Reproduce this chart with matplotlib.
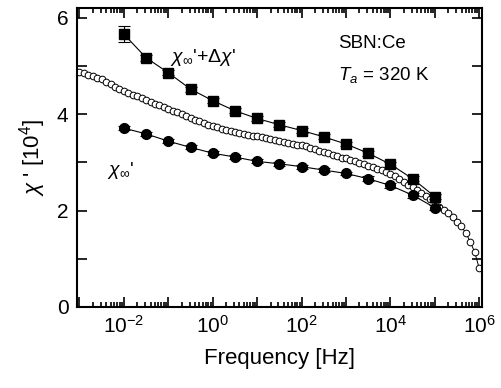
import numpy as np
import matplotlib
matplotlib.use("Agg")
import matplotlib.pyplot as plt
from matplotlib.ticker import LogLocator, FixedLocator, NullFormatter

plt.rcParams["font.family"] = ["Liberation Sans", "DejaVu Sans"]
plt.rcParams["mathtext.fontset"] = "custom"
plt.rcParams["mathtext.rm"] = "Liberation Sans"
plt.rcParams["mathtext.it"] = "Liberation Sans:italic"

# chi_inf' + delta chi'  (squares) and chi_inf' (filled circles)
freq_fit = [1e-2, 3.16e-2, 1e-1, 3.16e-1, 1e0, 3.16e0, 1e1, 3.16e1,
            1e2, 3.16e2, 1e3, 3.16e3, 1e4, 3.16e4, 1e5]
chi_total = [5.66, 5.17, 4.86, 4.52, 4.28, 4.07, 3.91, 3.78,
             3.66, 3.53, 3.38, 3.19, 2.96, 2.66, 2.29]
chi_total_err = [0.16, 0.06, 0.05, 0.05, 0.05, 0.05, 0.05, 0.05,
                 0.05, 0.05, 0.05, 0.05, 0.05, 0.05, 0.05]
chi_inf = [3.71, 3.59, 3.44, 3.31, 3.19, 3.11, 3.02, 2.97,
           2.91, 2.84, 2.77, 2.66, 2.52, 2.32, 2.06]
chi_inf_err = [0.04, 0.04, 0.04, 0.04, 0.04, 0.04, 0.04, 0.04,
               0.04, 0.04, 0.04, 0.05, 0.05, 0.05, 0.05]

# measured chi' (open circles), 10 points per decade from 1e-3 to 1e6 Hz
freq_meas = np.logspace(-3, 6, 91)
chi_meas = [4.88, 4.85, 4.82, 4.79, 4.76, 4.72, 4.67, 4.62, 4.57, 4.52,
            4.48, 4.44, 4.40, 4.37, 4.33, 4.29, 4.25, 4.21, 4.18, 4.14,
            4.11, 4.07, 4.04, 4.00, 3.96, 3.92, 3.88, 3.85, 3.81, 3.78,
            3.75, 3.73, 3.70, 3.68, 3.66, 3.64, 3.61, 3.59, 3.57, 3.55,
            3.54, 3.52, 3.50, 3.48, 3.47, 3.45, 3.43, 3.41, 3.39, 3.37,
            3.35, 3.33, 3.30, 3.27, 3.24, 3.21, 3.19, 3.16, 3.13, 3.10,
            3.08, 3.05, 3.02, 2.99, 2.96, 2.93, 2.90, 2.87, 2.84, 2.80,
            2.76, 2.71, 2.65, 2.60, 2.54, 2.48, 2.42, 2.36, 2.30, 2.23,
            2.16, 2.08, 2.01, 1.94, 1.86, 1.77, 1.67, 1.53, 1.35, 1.13,
            0.80]

decades = [1e-3, 1e-2, 1e-1, 1e0, 1e1, 1e2, 1e3, 1e4, 1e5, 1e6]
decade_labels = ["", r"$10^{-2}$", "", r"$10^{0}$", "", r"$10^{2}$", "",
                 r"$10^{4}$", "", r"$10^{6}$"]

fig = plt.figure(figsize=(5.02, 3.88), dpi=100)
ax = fig.add_axes([0.153, 0.209, 0.807, 0.770])

ax.plot(freq_meas, chi_meas, "-o", color="black", lw=0.7, ms=4.8,
        mfc="white", mec="black", mew=0.7, zorder=2)
ax.errorbar(freq_fit, chi_total, yerr=chi_total_err, fmt="-s", color="black",
            lw=0.8, ms=6.5, capsize=4, elinewidth=0.8, capthick=0.8, zorder=3)
ax.errorbar(freq_fit, chi_inf, yerr=chi_inf_err, fmt="-o", color="black",
            lw=0.8, ms=7, capsize=4, elinewidth=0.8, capthick=0.8, zorder=3)

ax.set_xscale("log")
ax.set_xlim(8.7e-4, 1.15e6)
ax.set_ylim(0, 6.2)
ax.xaxis.set_major_locator(FixedLocator(decades))
ax.set_xticklabels(decade_labels)
ax.xaxis.set_minor_locator(LogLocator(base=10, subs=np.arange(2, 10), numticks=30))
ax.xaxis.set_minor_formatter(NullFormatter())
ax.set_yticks([0, 2, 4, 6])
ax.set_yticks([1, 3, 5], minor=True)

ax.tick_params(which="both", direction="in", top=True, right=True,
               width=1.2, labelsize=15)
ax.tick_params(which="major", length=7, pad=6)
ax.tick_params(axis="y", which="minor", length=7)
ax.tick_params(axis="x", which="minor", length=3.5)
for sp in ax.spines.values():
    sp.set_linewidth(1.5)

ax.set_xlabel("Frequency [Hz]", fontsize=16, labelpad=8)
ax.set_ylabel(r"$\chi$ ' [10$^4$]", fontsize=16, labelpad=6)

ax.text(0.645, 0.865, "SBN:Ce", transform=ax.transAxes, fontsize=13.5)
ax.text(0.645, 0.76, r"$T_a$ = 320 K", transform=ax.transAxes, fontsize=13.5)
ax.text(0.23, 0.82, r"$\chi_\infty$'+$\Delta\chi$'", transform=ax.transAxes,
        fontsize=14)
ax.text(0.075, 0.44, r"$\chi_\infty$'", transform=ax.transAxes, fontsize=14)

fig.savefig("out.png", dpi=100)
